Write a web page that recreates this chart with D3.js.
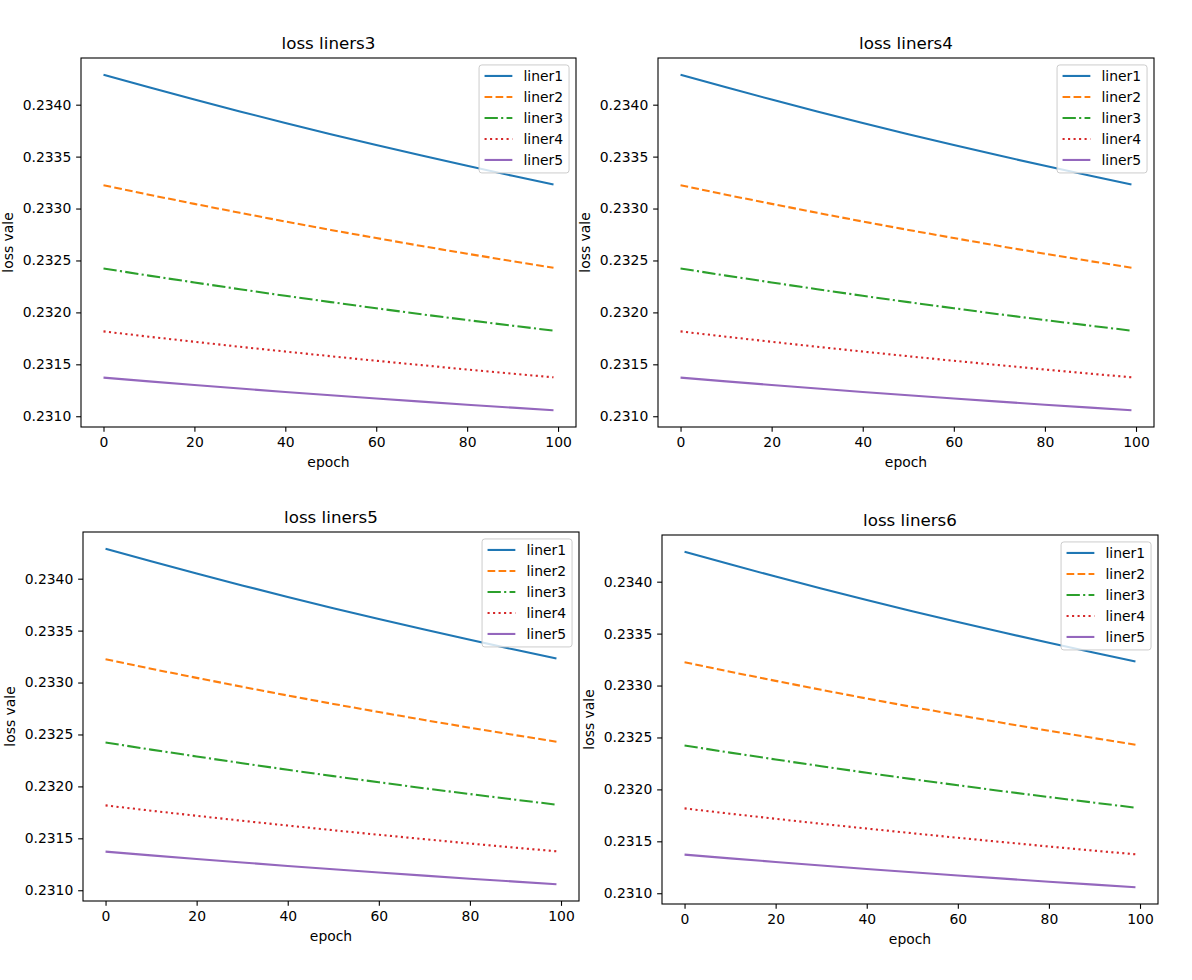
<!DOCTYPE html>
<html>
<head>
<meta charset="utf-8">
<script src="https://cdn.jsdelivr.net/npm/d3@7"></script>
<style>
  body { margin: 0; background: #fff; }
  svg { display: block; font-family: "DejaVu Sans", sans-serif; }
</style>
</head>
<body>
<div id="chart"></div>
<script>
const epochs = [0, 10, 20, 30, 40, 50, 60, 70, 80, 90, 99]
const liner1 = [0.234288, 0.234167, 0.234049, 0.233935, 0.233824, 0.233716, 0.233611, 0.233510, 0.233411, 0.233315, 0.233231]
const liner2 = [0.233224, 0.233133, 0.233045, 0.232959, 0.232875, 0.232794, 0.232716, 0.232639, 0.232565, 0.232493, 0.232430]
const liner3 = [0.232423, 0.232354, 0.232288, 0.232223, 0.232160, 0.232099, 0.232040, 0.231982, 0.231926, 0.231872, 0.231824]
const liner4 = [0.231817, 0.231766, 0.231717, 0.231669, 0.231623, 0.231578, 0.231534, 0.231492, 0.231450, 0.231410, 0.231375]
const liner5 = [0.231372, 0.231336, 0.231301, 0.231267, 0.231234, 0.231202, 0.231171, 0.231141, 0.231111, 0.231083, 0.231058]

const seriesNames = ['liner1', 'liner2', 'liner3', 'liner4', 'liner5']
const seriesValues = [liner1, liner2, liner3, liner4, liner5]
const panelTitles = ['loss liners3', 'loss liners4', 'loss liners5', 'loss liners6']
const xTicks = [0, 20, 40, 60, 80, 100]
const yTicks = [0.2310, 0.2315, 0.2320, 0.2325, 0.2330, 0.2335, 0.2340]

const colors = ['#1f77b4', '#ff7f0e', '#2ca02c', '#d62728', '#9467bd']
const dashes = ['none', '7.7,3.3', '13.3,3.3,2.1,3.3', '2.1,3.4', 'none']

// axes boxes in figure pixels
const panels = [
  { x: 81, y: 58, w: 495, h: 369 },
  { x: 658, y: 58, w: 496, h: 369 },
  { x: 83, y: 532, w: 496, h: 369 },
  { x: 662, y: 535, w: 496, h: 369 }
]

const W = 1192, H = 980
const svg = d3.select('#chart').append('svg')
  .attr('width', W).attr('height', H)

const fs = 13.9
const allVals = seriesValues.flat()
const yMin = d3.min(allVals), yMax = d3.max(allVals)
const yPad = (yMax - yMin) * 0.05
const xPad = (d3.max(epochs) - d3.min(epochs)) * 0.05

panels.forEach((p, i) => {
  const g = svg.append('g').attr('transform', `translate(${p.x},${p.y})`)

  const x = d3.scaleLinear()
    .domain([d3.min(epochs) - xPad, d3.max(epochs) + xPad])
    .range([0, p.w])
  const y = d3.scaleLinear()
    .domain([yMin - yPad, yMax + yPad])
    .range([p.h, 0])

  // lines
  const line = d3.line().x((d, k) => x(epochs[k])).y(d => y(d))
  seriesValues.forEach((vals, s) => {
    g.append('path')
      .datum(vals)
      .attr('d', line)
      .attr('fill', 'none')
      .attr('stroke', colors[s])
      .attr('stroke-width', 2.08)
      .attr('stroke-dasharray', dashes[s])
  })

  // x axis
  const xAxis = g.append('g')
    .attr('transform', `translate(0,${p.h})`)
    .call(d3.axisBottom(x).tickValues(xTicks).tickSize(4.86).tickPadding(4.86).tickFormat(d3.format('d')))
  // y axis
  const yAxis = g.append('g')
    .call(d3.axisLeft(y).tickValues(yTicks).tickSize(4.86).tickPadding(4.86).tickFormat(d3.format('.4f')))

  ;[xAxis, yAxis].forEach(a => {
    a.select('.domain').remove()
    a.selectAll('.tick line').attr('stroke', '#000').attr('stroke-width', 1.1)
    a.selectAll('.tick text')
      .attr('fill', '#000')
      .style('font-size', fs + 'px')
      .style('font-family', '"DejaVu Sans", sans-serif')
  })
  xAxis.selectAll('.tick text').attr('dy', null).attr('y', 20).attr('dominant-baseline', 'auto')

  // frame
  g.append('rect')
    .attr('width', p.w).attr('height', p.h)
    .attr('fill', 'none')
    .attr('stroke', '#000')
    .attr('stroke-width', 1.1)

  // title and labels
  g.append('text')
    .attr('x', p.w / 2).attr('y', -9)
    .attr('text-anchor', 'middle')
    .style('font-size', '16.7px')
    .text(panelTitles[i])

  g.append('text')
    .attr('x', p.w / 2).attr('y', p.h + 40)
    .attr('text-anchor', 'middle')
    .style('font-size', fs + 'px')
    .text('epoch')

  g.append('text')
    .attr('transform', `translate(-68,${p.h / 2}) rotate(-90)`)
    .attr('text-anchor', 'middle')
    .style('font-size', fs + 'px')
    .text('loss vale')

  // legend, upper right
  const lw = 90, lh = 108
  const leg = g.append('g').attr('transform', `translate(${p.w - 6.95 - lw},6.95)`)
  leg.append('rect')
    .attr('width', lw).attr('height', lh)
    .attr('rx', 2.8)
    .attr('fill', '#fff').attr('fill-opacity', 0.8)
    .attr('stroke', '#cccccc').attr('stroke-width', 1)

  seriesNames.forEach((name, s) => {
    const ry = 11 + s * 21
    leg.append('line')
      .attr('x1', 5.5).attr('x2', 33.3)
      .attr('y1', ry).attr('y2', ry)
      .attr('stroke', colors[s])
      .attr('stroke-width', 2.08)
      .attr('stroke-dasharray', dashes[s])
    leg.append('text')
      .attr('x', 44.4).attr('y', ry)
      .attr('dy', '0.35em')
      .style('font-size', fs + 'px')
      .text(name)
  })
})
</script>
</body>
</html>
